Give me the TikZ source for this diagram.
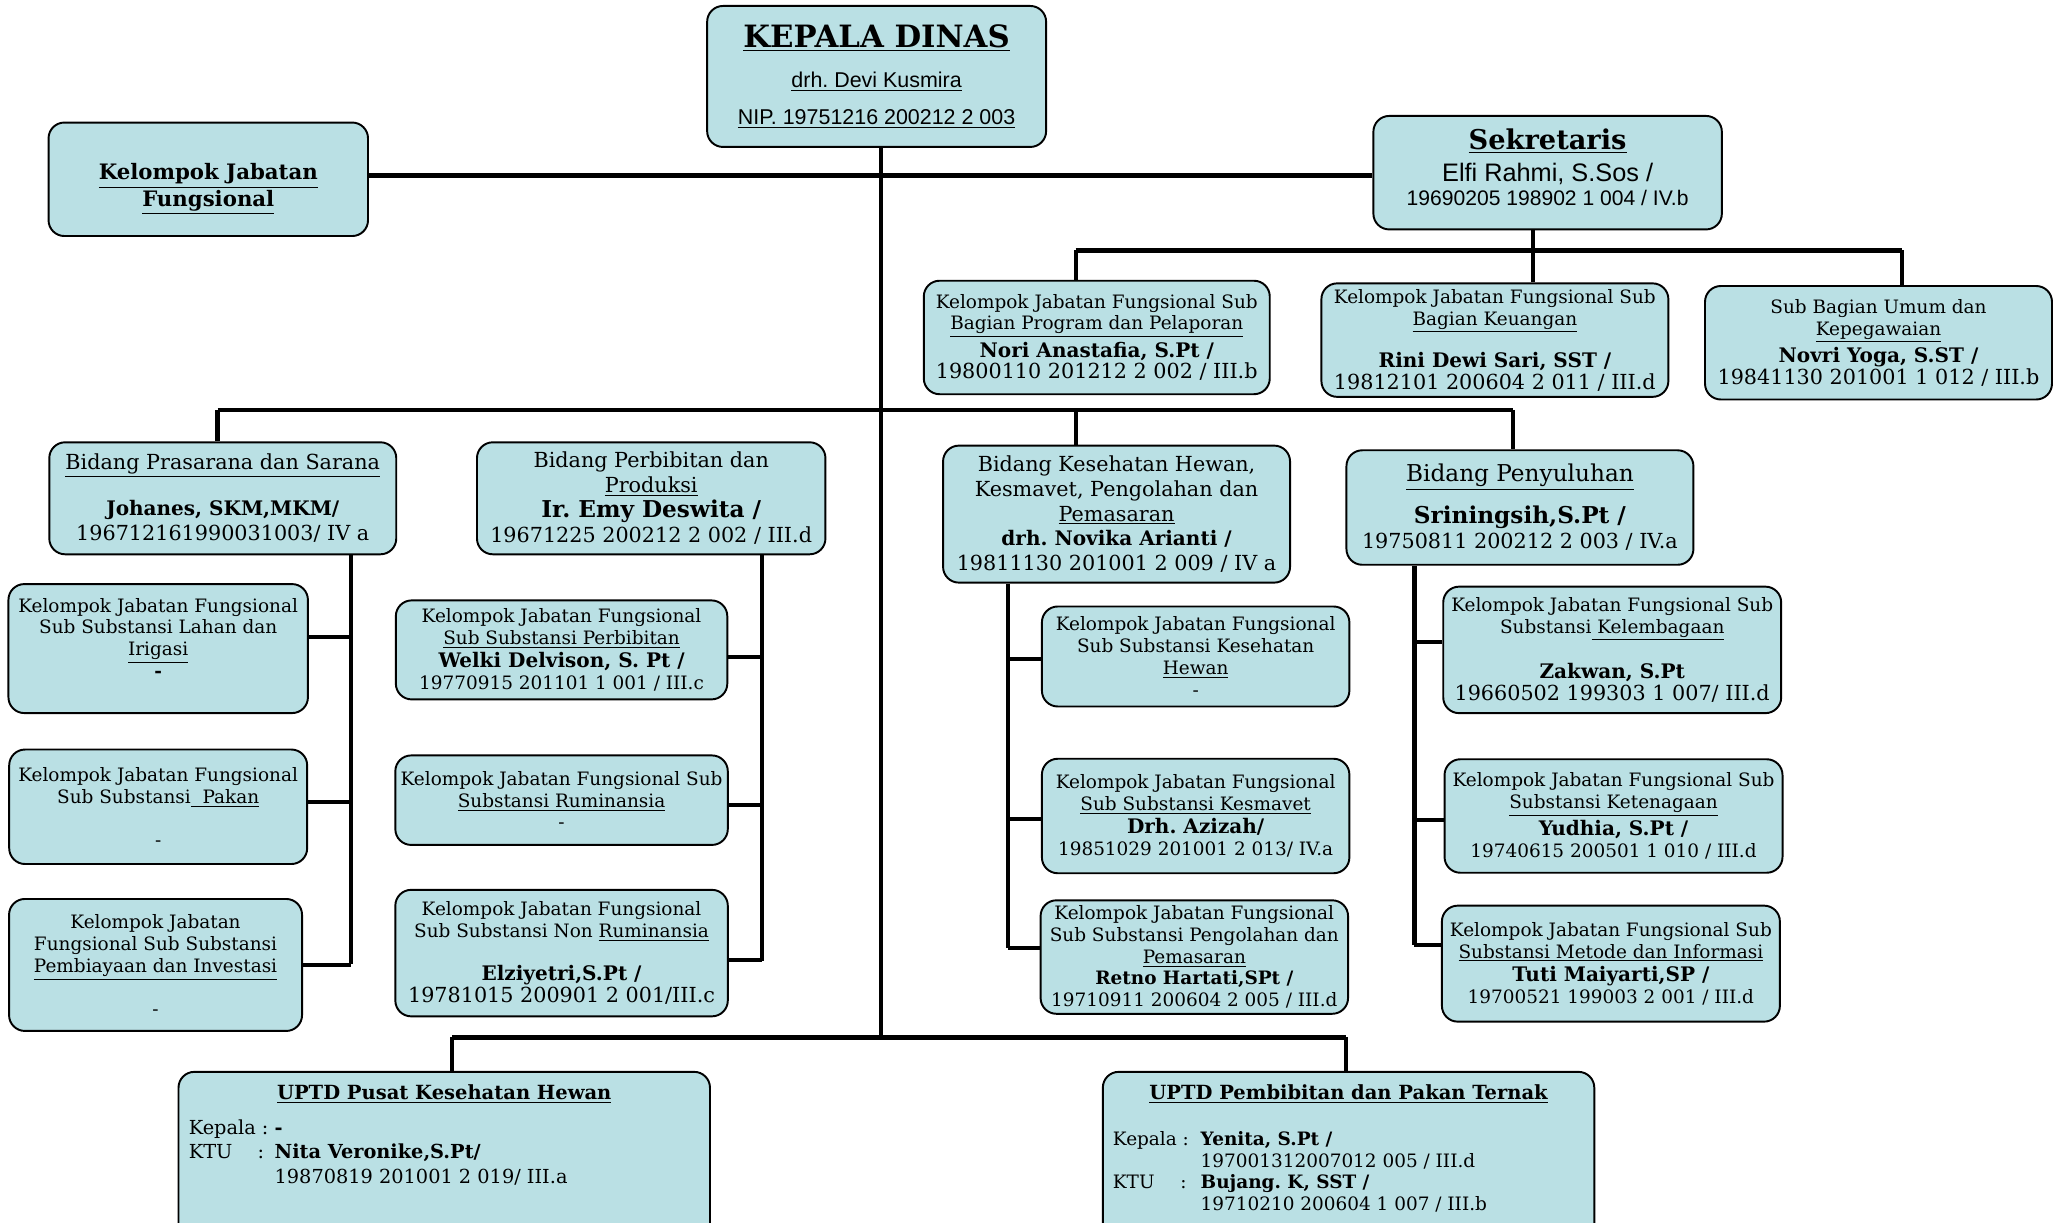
\documentclass[tikz,border=0pt]{standalone}
\usepackage{fontspec}
\setmainfont{DejaVu Serif}
\setsansfont{Liberation Sans}
\usepackage{tikz}
\usepackage{color}
\frenchspacing
\definecolor{boxblue}{RGB}{186,224,228}
\newcommand{\fs}{\fontsize{10.5}{12.4}\selectfont}
\newcommand{\fm}{\fontsize{11.8}{14.2}\selectfont}
\newcommand{\fb}{\fontsize{11.4}{14.2}\selectfont\bfseries}
\newcommand{\fl}{\fontsize{13.2}{15}\selectfont}

\begin{document}
\begin{tikzpicture}[x=0.02637cm, y=-0.02636cm,
  box/.style={draw=black, fill=boxblue, line width=1.1pt, rounded corners=9pt, align=center, inner sep=1pt, font=\fs},
  link/.style={line width=2.3pt},
  bus/.style={line width=2.7pt}]
\useasboundingbox (0,0) rectangle (1568,927);
%% kepala, sekretaris
\node[box, minimum width=6.78cm, minimum height=2.82cm, font=\sffamily\fontsize{12.2}{14}\selectfont] (kd) at (665,58) {{\rmfamily\fontsize{17.5}{20}\selectfont\bfseries\underline{KEPALA DINAS}}\\[9pt] \underline{drh. Devi Kusmira}\\[7pt] \underline{NIP. 19751216 200212 2 003}};
\node[box, minimum width=6.39cm, minimum height=2.27cm, font=\fontsize{12.1}{15}\selectfont\bfseries] (kjf) at (158,136) {\mbox{}\\[5.5pt] \underline{Kelompok Jabatan}\\ \underline{Fungsional}};
\node[box, minimum width=6.97cm, minimum height=2.27cm, font=\sffamily\fontsize{12}{14}\selectfont] (sek) at (1174,131) {{\rmfamily\fontsize{15.5}{16}\selectfont\bfseries\underline{Sekretaris}}\\[4pt] {\fontsize{14.4}{16}\selectfont Elfi Rahmi, S.Sos /}\\ 19690205 198902 1 004 / IV.b\\[-8pt]\mbox{}};
%% sub bagian
\node[box, minimum width=6.92cm, minimum height=2.27cm] (nori) at (832,256) {Kelompok Jabatan Fungsional Sub\\ \underline{Bagian Program dan Pelaporan}\\[1.5pt] {\fb Nori Anastafia, S.Pt /}\\ {\fm 19800110 201212 2 002 / III.b}};
\node[box, minimum width=6.94cm, minimum height=2.27cm] (rini) at (1134,258) {Kelompok Jabatan Fungsional Sub\\ \underline{Bagian Keuangan}\\[10pt] {\fb Rini Dewi Sari, SST /}\\ {\fm 19812101 200604 2 011 / III.d}};
\node[box, minimum width=6.94cm, minimum height=2.27cm] (novri) at (1425,260) {Sub Bagian Umum dan\\ \underline{Kepegawaian}\\[1.5pt] {\fb Novri Yoga, S.ST /}\\ {\fm 19841130 201001 1 012 / III.b}};
%% bidang
\node[box, minimum width=6.94cm, minimum height=2.24cm, font=\fm] (bp) at (169,378) {\underline{Bidang Prasarana dan Sarana}\\[12pt] {\fb Johanes, SKM,MKM/}\\ 196712161990031003/ IV a};
\node[box, minimum width=6.97cm, minimum height=2.24cm, font=\fm] (bpp) at (494,378) {Bidang Perbibitan dan\\ \underline{Produksi}\\ {\fl\bfseries Ir. Emy Deswita /}\\ 19671225 200212 2 002 / III.d};
\node[box, minimum width=6.94cm, minimum height=2.74cm, font=\fm] (bk) at (847,390) {Bidang Kesehatan Hewan,\\ Kesmavet, Pengolahan dan\\ \underline{Pemasaran}\\ {\fb drh. Novika Arianti /}\\ 19811130 201001 2 009 / IV a};
\node[box, minimum width=6.94cm, minimum height=2.29cm, font=\fm] (bpy) at (1153,385) {{\fl\underline{Bidang Penyuluhan}}\\[8pt] {\fl\bfseries Sriningsih,S.Pt /}\\ 19750811 200212 2 003 / IV.a};
%% prasarana
\node[box, minimum width=5.99cm, minimum height=2.58cm] (p1) at (120,492) {Kelompok Jabatan Fungsional\\ Sub Substansi Lahan dan\\ \underline{Irigasi}\\ \textbf{-}\\ \mbox{}};
\node[box, minimum width=5.96cm, minimum height=2.29cm] (p2) at (120,612) {Kelompok Jabatan Fungsional\\ Sub Substansi\underline{\ \ Pakan}\\[12pt] -};
\node[box, minimum width=5.86cm, minimum height=2.64cm] (p3) at (118,732) {Kelompok Jabatan\\ Fungsional Sub Substansi\\ \underline{Pembiayaan dan Investasi}\\[12pt] -};
%% perbibitan
\node[box, minimum width=6.63cm, minimum height=1.98cm] (q1) at (426,493) {Kelompok Jabatan Fungsional\\ \underline{Sub Substansi Perbibitan}\\[1pt] {\fb Welki Delvison, S. Pt /}\\ 19770915 201101 1 001 / III.c};
\node[box, minimum width=6.65cm, minimum height=1.79cm] (q2) at (426,607) {Kelompok Jabatan Fungsional Sub\\ \underline{Substansi Ruminansia}\\ -};
\node[box, minimum width=6.65cm, minimum height=2.53cm] (q3) at (426,723) {Kelompok Jabatan Fungsional\\ Sub Substansi Non \underline{Ruminansia}\\[12pt] {\fb Elziyetri,S.Pt /}\\ {\fm 19781015 200901 2 001/III.c}};
%% kesehatan
\node[box, minimum width=6.15cm, minimum height=2.0cm] (k1) at (907,498) {Kelompok Jabatan Fungsional\\ Sub Substansi Kesehatan\\ \underline{Hewan}\\ -};
\node[box, minimum width=6.15cm, minimum height=2.29cm] (k2) at (907,619) {Kelompok Jabatan Fungsional\\ \underline{Sub Substansi Kesmavet}\\[1pt] {\fb Drh. Azizah/}\\ 19851029 201001 2 013/ IV.a};
\node[box, minimum width=6.15cm, minimum height=2.27cm] (k3) at (906,726) {Kelompok Jabatan Fungsional\\ Sub Substansi Pengolahan dan\\ \underline{Pemasaran}\\ \textbf{Retno Hartati,SPt /}\\ 19710911 200604 2 005 / III.d};
%% penyuluhan
\node[box, minimum width=6.76cm, minimum height=2.53cm] (y1) at (1223,493) {Kelompok Jabatan Fungsional Sub\\ Substansi\underline{ Kelembagaan}\\[12pt] {\fb Zakwan, S.Pt}\\ {\fm 19660502 199303 1 007/ III.d}};
\node[box, minimum width=6.76cm, minimum height=2.27cm] (y2) at (1224,619) {Kelompok Jabatan Fungsional Sub\\ \underline{Substansi Ketenagaan}\\[1.5pt] {\fb Yudhia, S.Pt /}\\ 19740615 200501 1 010 / III.d};
\node[box, minimum width=6.76cm, minimum height=2.32cm] (y3) at (1222,731) {Kelompok Jabatan Fungsional Sub\\ \underline{Substansi Metode dan Informasi}\\[1pt] {\fb Tuti Maiyarti,SP /}\\ 19700521 199003 2 001 / III.d};
%% uptd
\node[box, minimum width=10.63cm, minimum height=3.95cm] (u1) at (337,888) {};
\node[anchor=base, font=\fontsize{11.1}{13}\selectfont\bfseries] (u1t) at (337,834) {\underline{UPTD Pusat Kesehatan Hewan}};
\node[anchor=north west, inner sep=0pt, font=\fontsize{11}{14}\selectfont] (u1d) at (143,847) {\begin{tabular}{@{}l@{\ }l@{}}Kepala : & \textbf{-}\\ KTU\hspace{1.3em}: & \textbf{Nita Veronike,S.Pt/}\\ & 19870819 201001 2 019/ III.a\end{tabular}};
\node[box, minimum width=9.83cm, minimum height=3.95cm] (u2) at (1023,888) {};
\node[anchor=base, font=\fontsize{11.1}{13}\selectfont\bfseries] (u2t) at (1023,834) {\underline{UPTD Pembibitan dan Pakan Ternak}};
\node[anchor=north west, inner sep=0pt, font=\fs] (u2d) at (844,857) {\begin{tabular}{@{}l@{\ \ }l@{}}Kepala : & \textbf{Yenita, S.Pt /}\\ & 197001312007012 005 / III.d\\ KTU\hspace{1.4em}: & \textbf{Bujang. K, SST /}\\ & 19710210 200604 1 007 / III.b\end{tabular}};
%% garis
\coordinate (jt) at (668,133);
\draw[link] (jt |- kd.south) -- (668,787);
\draw[bus] (kjf.east |- jt) -- (sek.west |- jt);
\coordinate (s1) at (816,190);
\coordinate (s2) at (1163,190);
\coordinate (s3) at (1443,190);
\draw[link] (s2 |- sek.south) -- (s2);
\draw[bus] (s1) -- (s3);
\draw[link] (s1) -- (s1 |- nori.north);
\draw[link] (s2) -- (s2 |- rini.north);
\draw[link] (s3) -- (s3 |- novri.north);
\coordinate (b1) at (165,311);
\coordinate (b3) at (816,311);
\coordinate (b4) at (1148,311);
\draw[bus] (b1) -- (b4);
\draw[link] (b1) -- (b1 |- bp.north);
\draw[link] (b3) -- (b3 |- bk.north);
\draw[link] (b4) -- (b4 |- bpy.north);
% anak bidang
\coordinate (pv) at (266,731);
\draw[link] (pv |- bp.south) -- (pv);
\draw[link] ([yshift=6.8pt]p1.east) -- ([yshift=6.8pt]p1.east -| pv);
\draw[link] ([yshift=2.6pt]p2.east) -- ([yshift=2.6pt]p2.east -| pv);
\draw[link] (p3.east) -- (p3.east -| pv);
\coordinate (qv) at (578,729);
\draw[link] (qv |- bpp.south) -- (qv);
\draw[link] ([yshift=-4.1pt]q1.east) -- ([yshift=-4.1pt]q1.east -| qv);
\draw[link] ([yshift=-3pt]q2.east) -- ([yshift=-3pt]q2.east -| qv);
\draw[link] ([yshift=-3.8pt]q3.east) -- ([yshift=-3.8pt]q3.east -| qv);
\coordinate (kv) at (765,719);
\draw[link] (kv |- bk.south) -- (kv);
\draw[link] ([yshift=-1.5pt]k1.west) -- ([yshift=-1.5pt]k1.west -| kv);
\draw[link] ([yshift=-1.9pt]k2.west) -- ([yshift=-1.9pt]k2.west -| kv);
\draw[link] ([yshift=5.3pt]k3.west) -- ([yshift=5.3pt]k3.west -| kv);
\coordinate (yv) at (1073,717);
\draw[link] (yv |- bpy.south) -- (yv);
\draw[link] ([yshift=4.5pt]y1.west) -- ([yshift=4.5pt]y1.west -| yv);
\draw[link] ([yshift=-2.3pt]y2.west) -- ([yshift=-2.3pt]y2.west -| yv);
\draw[link] ([yshift=10.6pt]y3.west) -- ([yshift=10.6pt]y3.west -| yv);
% uptd
\coordinate (t1) at (343,787);
\coordinate (t2) at (1021,787);
\draw[bus] (t1) -- (t2);
\draw[link] (t1) -- (t1 |- u1.north);
\draw[link] (t2) -- (t2 |- u2.north);
\end{tikzpicture}
\end{document}
